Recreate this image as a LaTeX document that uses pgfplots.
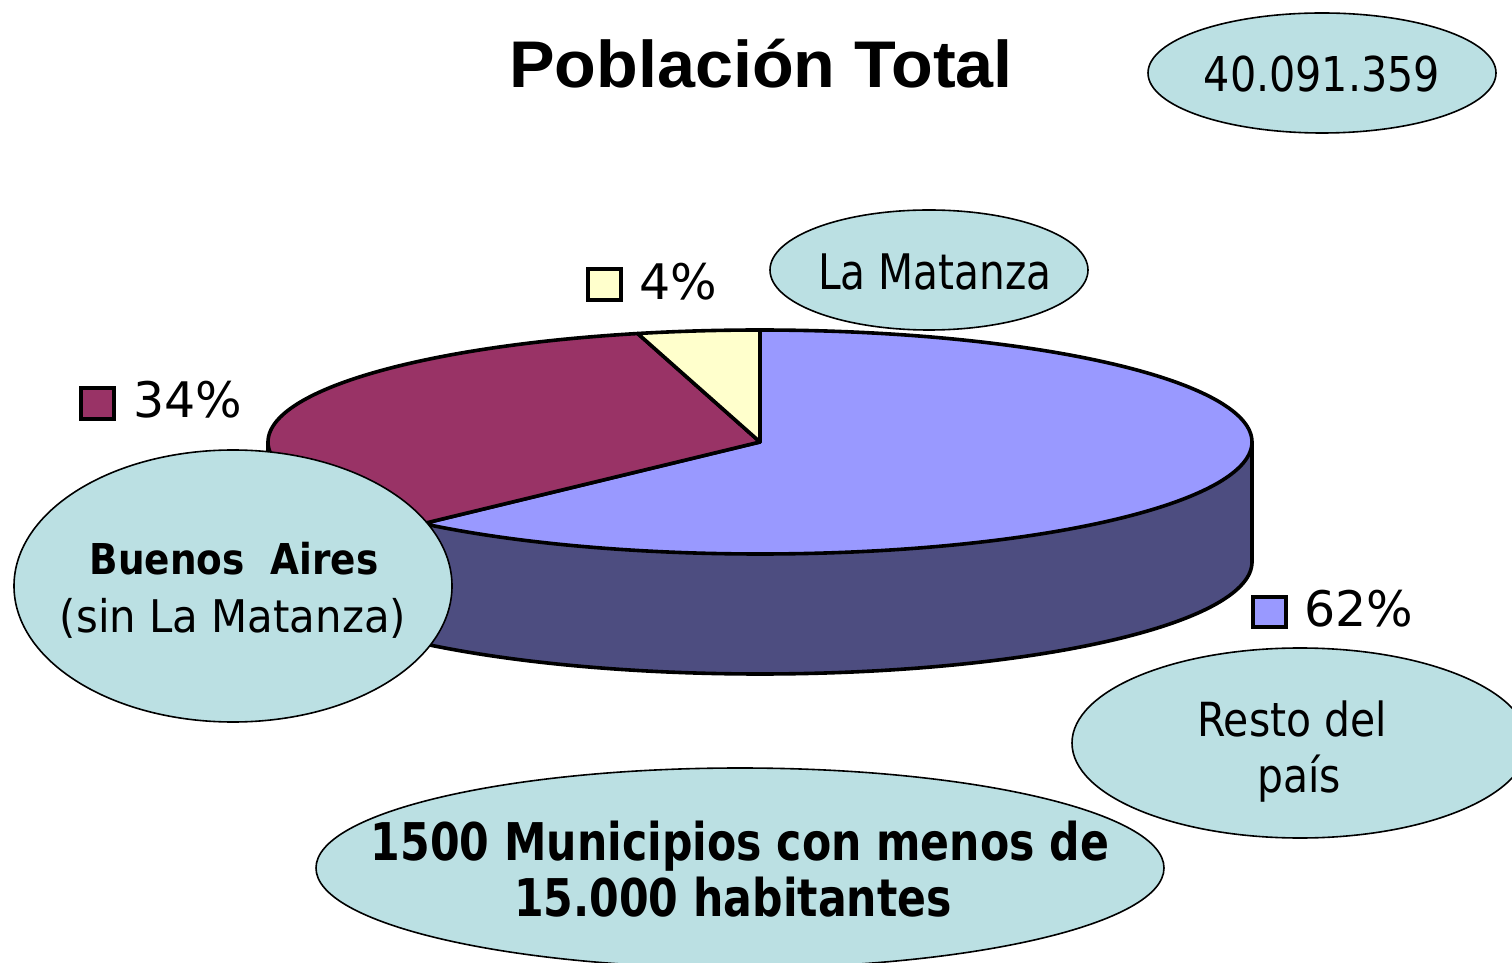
\documentclass[border=0pt]{standalone}
\usepackage{pgfplots}
\pgfplotsset{compat=1.18}
\usepgfplotslibrary{fillbetween}
\usepackage{graphicx}
\usepackage{fontspec}
\setmainfont{DejaVu Sans}
\newfontfamily\titlefont{Liberation Sans}
\definecolor{ptop}{HTML}{9999FF}
\definecolor{pside}{HTML}{4D4D80}
\definecolor{mtop}{HTML}{993366}
\definecolor{mside}{HTML}{4D1A33}
\definecolor{ytop}{HTML}{FFFFCC}
\definecolor{callout}{HTML}{BBE0E3}
% pie geometry (pixels)
\def\cx{760}\def\cy{442}\def\rx{492}\def\ry{112}\def\dep{120}
% data (percent)
\def\vLM{4}\def\vBA{34}\def\vRP{62}
\pgfmathsetmacro\aA{90}
\pgfmathsetmacro\aB{\aA+3.6*\vLM}
\pgfmathsetmacro\aC{\aB+3.6*\vBA}
\pgfmathsetmacro\aD{\aC+3.6*\vRP}
\newcommand\fs[1]{\fontsize{#1}{#1}\selectfont}
\begin{document}
\begin{tikzpicture}
\begin{axis}[scale only axis, width=1512pt, height=962pt,
  xmin=0, xmax=1512, ymin=0, ymax=962, y dir=reverse,
  hide axis, clip=false]
% ---- sides
\addplot[name path=mt, draw=none, domain=180:\aC, samples=60, variable=\t] ({\cx+\rx*cos(\t)},{\cy-\ry*sin(\t)});
\addplot[name path=mb, draw=none, domain=180:\aC, samples=60, variable=\t] ({\cx+\rx*cos(\t)},{\cy+\dep-\ry*sin(\t)});
\addplot[mside] fill between[of=mt and mb];
\addplot[name path=bt, draw=none, domain=\aC:360, samples=120, variable=\t] ({\cx+\rx*cos(\t)},{\cy-\ry*sin(\t)});
\addplot[name path=bb, draw=none, domain=\aC:360, samples=120, variable=\t] ({\cx+\rx*cos(\t)},{\cy+\dep-\ry*sin(\t)});
\addplot[pside] fill between[of=bt and bb];
\addplot[black, line width=3.6pt, domain=180:360, samples=160, variable=\t] ({\cx+\rx*cos(\t)},{\cy+\dep-\ry*sin(\t)});
\addplot[black, line width=3.6pt] coordinates {(268,442) (268,562)};
\addplot[black, line width=3.6pt] coordinates {(1252,442) (1252,562)};
% ---- top sectors
\addplot[fill=ptop, draw=black, line width=3.6pt, line join=round, domain=\aC:\aD, samples=200, variable=\t] ({\cx+\rx*cos(\t)},{\cy-\ry*sin(\t)}) -- (axis cs:\cx,\cy) -- cycle;
\addplot[fill=mtop, draw=black, line width=3.6pt, line join=round, domain=\aB:\aC, samples=120, variable=\t] ({\cx+\rx*cos(\t)},{\cy-\ry*sin(\t)}) -- (axis cs:\cx,\cy) -- cycle;
\addplot[fill=ytop, draw=black, line width=3.6pt, line join=round, domain=\aA:\aB, samples=30, variable=\t] ({\cx+\rx*cos(\t)},{\cy-\ry*sin(\t)}) -- (axis cs:\cx,\cy) -- cycle;
% ---- legend keys and percentages
\draw[fill=ytop, line width=3.4pt] (axis cs:588,269) rectangle (axis cs:621,300);
\node[anchor=base west, inner sep=0pt] at (axis cs:639,300) {\fs{49}4\%};
\draw[fill=mtop, line width=3.4pt] (axis cs:81,388) rectangle (axis cs:114,419);
\node[anchor=base west, inner sep=0pt] at (axis cs:133,418) {\fs{49}34\%};
\draw[fill=ptop, line width=3.4pt] (axis cs:1253,597) rectangle (axis cs:1286,627);
\node[anchor=base west, inner sep=0pt] at (axis cs:1304,627) {\fs{49}62\%};
% ---- title
\node[anchor=base, inner sep=0pt] at (axis cs:761,88) {\titlefont\bfseries\fs{66}\scalebox{1.035}[1]{Población Total}};
% ---- callouts
\draw[fill=callout, line width=1.6pt] (axis cs:1322,73) ellipse [x radius=174, y radius=60];
\node[anchor=base, inner sep=0pt] at (axis cs:1322,92) {\fs{48}\scalebox{0.86}[1]{40.091.359}};
\draw[fill=callout, line width=1.6pt] (axis cs:929,270) ellipse [x radius=159, y radius=60];
\node[anchor=base, inner sep=0pt] at (axis cs:935,290) {\fs{49}\scalebox{0.83}[1]{La Matanza}};
\draw[fill=callout, line width=1.6pt] (axis cs:233,586) ellipse [x radius=219, y radius=136];
\node[anchor=base, inner sep=0pt] at (axis cs:234,575) {\bfseries\fs{42.5}\scalebox{0.88}[1]{Buenos\ \ Aires}};
\node[anchor=base, inner sep=0pt] at (axis cs:233,632) {\fs{45}\scalebox{0.93}[1]{(sin La Matanza)}};
\draw[fill=callout, line width=1.6pt] (axis cs:1300,743) ellipse [x radius=228, y radius=95];
\node[anchor=base, inner sep=0pt] at (axis cs:1292,736) {\fs{47}\scalebox{0.87}[1]{Resto del}};
\node[anchor=base, inner sep=0pt] at (axis cs:1299,792) {\fs{47}\scalebox{0.87}[1]{país}};
\draw[fill=callout, line width=1.6pt] (axis cs:740,868) ellipse [x radius=424, y radius=100];
\node[anchor=base, inner sep=0pt] at (axis cs:740,860) {\bfseries\fs{52}\scalebox{0.82}[1]{1500 Municipios con menos de}};
\node[anchor=base, inner sep=0pt] at (axis cs:733,916) {\bfseries\fs{52}\scalebox{0.82}[1]{15.000 habitantes}};
\end{axis}
\pgfresetboundingbox
\path (current axis.south west) rectangle (current axis.north east);
\end{tikzpicture}
\end{document}
